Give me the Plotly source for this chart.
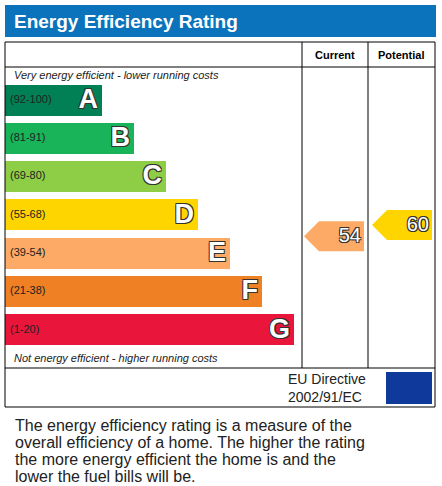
import math
import plotly.graph_objects as go

# Rating bands
letters = ["A", "B", "C", "D", "E", "F", "G"]
ranges = ["(92-100)", "(81-91)", "(69-80)", "(55-68)", "(39-54)", "(21-38)", "(1-20)"]
colors = ["#008054", "#19b459", "#8dce46", "#ffd500", "#fcaa65", "#ef8023", "#e9153b"]
current = 54
potential = 60
current_color = "#fcaa65"
potential_color = "#ffd500"
footer_lines = [
    "The energy efficiency rating is a measure of the",
    "overall efficiency of a home. The higher the rating",
    "the more energy efficient the home is and the",
    "lower the fuel bills will be.",
]

W, H = 442, 486
fig = go.Figure()
shapes = []
outline = "-1px -1px 0 #333, 1px -1px 0 #333, -1px 1px 0 #333, 1px 1px 0 #333"
font = "Arial, Liberation Sans"

# title bar
shapes.append(dict(type="rect", x0=5, x1=436, y0=5, y1=37, fillcolor="#0a73bc", line_width=0))
# table frame
shapes.append(dict(type="rect", x0=5, x1=435, y0=42, y1=407, line=dict(color="black", width=1)))
shapes.append(dict(type="line", x0=5, x1=435, y0=67, y1=67, line=dict(color="black", width=1)))
shapes.append(dict(type="line", x0=5, x1=435, y0=368, y1=368, line=dict(color="black", width=1)))
for xv in (302, 368):
    shapes.append(dict(type="line", x0=xv, x1=xv, y0=42, y1=368, line=dict(color="black", width=1)))

# bands
bar_y = [100 + 38.3 * i for i in range(len(letters))]
bar_w = [97 + 32 * i for i in range(len(letters))]
fig.add_trace(go.Bar(
    y=bar_y, x=bar_w, base=5, orientation="h", width=31,
    marker=dict(color=colors, line_width=0), hoverinfo="skip", showlegend=False,
))
fig.add_trace(go.Scatter(
    x=[10] * 7, y=bar_y, mode="text", text=ranges, textposition="middle right",
    textfont=dict(family=font, size=11, color="#222"),
    hoverinfo="skip", showlegend=False,
))
fig.add_trace(go.Scatter(
    x=[5 + w - 4 for w in bar_w], y=[b + 1 for b in bar_y], mode="text", text=letters,
    textposition="middle left",
    textfont=dict(family=font, size=27, color="white", weight="bold", shadow=outline),
    hoverinfo="skip", showlegend=False,
))


def band_y(score):
    bounds = [92, 81, 69, 55, 39, 21, 1]
    for i, b in enumerate(bounds):
        if score >= b:
            return bar_y[i]
    return bar_y[-1]


def arrow(x0, x1, yc, col, val):
    fig.add_trace(go.Scatter(
        x=[x0, x0 + 15, x1, x1, x0 + 15, x0], y=[yc, yc - 15, yc - 15, yc + 15, yc + 15, yc],
        fill="toself", fillcolor=col, mode="lines", line_width=0, hoverinfo="skip", showlegend=False,
    ))
    fig.add_trace(go.Scatter(
        x=[x1 - 3], y=[yc + 1], mode="text", text=[str(val)], textposition="middle left",
        textfont=dict(family=font, size=20, color="white", shadow=outline),
        hoverinfo="skip", showlegend=False,
    ))


arrow(304, 364, band_y(current) - 17, current_color, current)
arrow(372, 432, band_y(potential) + 10, potential_color, potential)

# EU flag
shapes.append(dict(type="rect", x0=386, x1=432, y0=372, y1=404, fillcolor="#0f3a9c", line_width=0))
fig.add_trace(go.Scatter(
    x=[409 + 10 * math.cos(k * math.pi / 6) for k in range(12)],
    y=[388 + 10 * math.sin(k * math.pi / 6) for k in range(12)],
    mode="markers", marker=dict(symbol="star", size=4, color="#ffdd00"),
    hoverinfo="skip", showlegend=False,
))

ann = [
    dict(x=12, y=21, text="<b>Energy Efficiency Rating</b>", size=19, color="white", xa="left"),
    dict(x=335, y=55, text="<b>Current</b>", size=11, color="black", xa="center"),
    dict(x=401, y=55, text="<b>Potential</b>", size=11, color="black", xa="center"),
    dict(x=12, y=75, text="<i>Very energy efficient - lower running costs</i>", size=11, color="#222", xa="left"),
    dict(x=12, y=358, text="<i>Not energy efficient - higher running costs</i>", size=11, color="#222", xa="left"),
    dict(x=368, y=388, text="EU Directive<br>2002/91/EC", size=14, color="#222", xa="right"),
]
for i, line in enumerate(footer_lines):
    ann.append(dict(x=13, y=425 + 17 * i, text=line, size=16, color="#222", xa="left"))

annotations = [dict(x=a["x"], y=a["y"], text=a["text"], showarrow=False, xanchor=a["xa"],
                    yanchor="middle", align="center" if a["xa"] == "center" else "left",
                    font=dict(family=font, size=a["size"], color=a["color"]),
                    xref="x", yref="y") for a in ann]

fig.update_layout(
    width=W, height=H, margin=dict(l=0, r=0, t=0, b=0),
    xaxis=dict(range=[0, W], visible=False, fixedrange=True),
    yaxis=dict(range=[H, 0], visible=False, fixedrange=True),
    plot_bgcolor="white", paper_bgcolor="white",
    shapes=shapes, annotations=annotations, bargap=0,
)
fig.write_html("out.html", config={"displayModeBar": False},
               post_script="document.body.style.margin='0';")
